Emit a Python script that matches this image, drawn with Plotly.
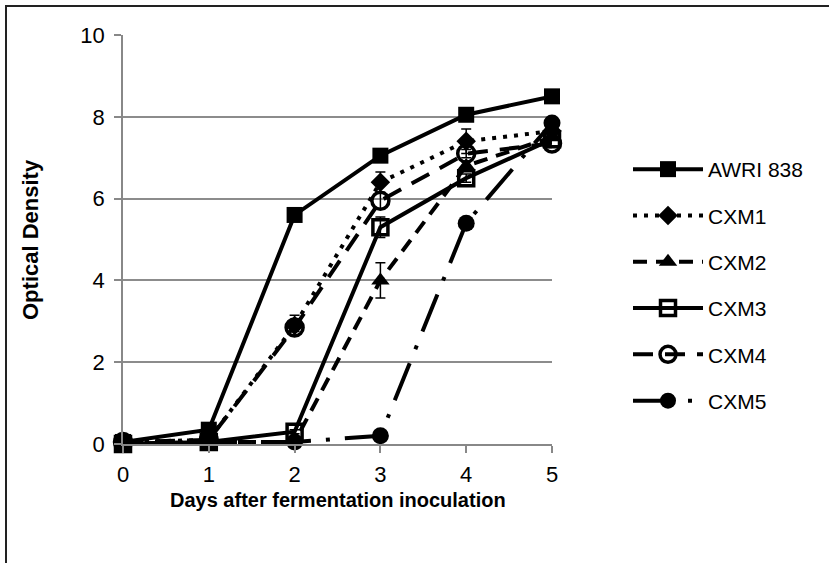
import plotly.graph_objects as go

days = [0, 1, 2, 3, 4, 5]
series_names = ["AWRI 838", "CXM1", "CXM2", "CXM3", "CXM4", "CXM5"]
awri838 = [0.05, 0.35, 5.6, 7.05, 8.05, 8.5]
cxm1 = [0.05, 0.1, 2.9, 6.4, 7.4, 7.65]
cxm2 = [0.0, 0.05, 0.05, 4.0, 6.8, 7.5]
cxm3 = [0.0, 0.05, 0.3, 5.3, 6.5, 7.45]
cxm4 = [0.05, 0.1, 2.85, 5.95, 7.1, 7.35]
cxm5 = [0.0, 0.05, 0.05, 0.2, 5.4, 7.85]
err_awri838 = [0.0, 0.0, 0.0, 0.0, 0.0, 0.0]
err_cxm1 = [0.0, 0.0, 0.25, 0.25, 0.3, 0.1]
err_cxm2 = [0.0, 0.0, 0.0, 0.43, 0.1, 0.1]
err_cxm3 = [0.0, 0.0, 0.05, 0.25, 0.1, 0.1]
err_cxm4 = [0.0, 0.0, 0.1, 0.2, 0.1, 0.1]
err_cxm5 = [0.0, 0.0, 0.0, 0.0, 0.1, 0.1]
x_title = "Days after fermentation inoculation"
y_title = "Optical Density"

values = [awri838, cxm1, cxm2, cxm3, cxm4, cxm5]
errors = [err_awri838, err_cxm1, err_cxm2, err_cxm3, err_cxm4, err_cxm5]
dashes = ["solid", "4px,7px", "14px,9px", "solid", "20px,12px", "40px,15px,4px,15px"]
symbols = ["square", "diamond", "triangle-up", "square-open", "circle-open", "circle"]
sizes = [16, 15, 16, 15, 17, 17]

fig = go.Figure()
for i, name in enumerate(series_names):
    fig.add_trace(go.Scatter(
        x=days, y=values[i], name=name, mode="lines+markers",
        legendgroup=name,
        line=dict(color="black", width=4, dash=dashes[i]),
        marker=dict(symbol=symbols[i], size=sizes[i], color="black",
                    line=dict(color="black", width=3.5 if "open" in symbols[i] else 0)),
        error_y=dict(type="data", array=errors[i], color="black", thickness=1.5, width=5),
        cliponaxis=False,
    ))

L, R, T, B = 123, 552, 35, 444
W, H = 829, 563
pw, ph = R - L, B - T

def px_x(p):
    return (p - L) / pw

def px_y(p):
    return (B - p) / ph

font = "Liberation Sans, Arial, sans-serif"

fig.update_layout(
    width=W, height=H,
    margin=dict(l=L, r=W - R, t=T, b=H - B, pad=0),
    paper_bgcolor="white", plot_bgcolor="white",
    font=dict(family=font, color="black", size=22),
    showlegend=True,
    legend=dict(
        x=px_x(628), xanchor="left", y=px_y(285), yanchor="middle",
        font=dict(size=21, family=font, color="black"),
        tracegroupgap=16, itemwidth=70, bgcolor="rgba(0,0,0,0)",
    ),
    xaxis=dict(
        range=[0, 5], tickvals=days, showgrid=False, zeroline=False,
        showline=True, linecolor="#888888", linewidth=1.5,
        ticks="outside", ticklen=7, tickcolor="#888888", tickwidth=1.5,
        tickfont=dict(size=22), ticklabelstandoff=3,
    ),
    yaxis=dict(
        range=[0, 10], dtick=2, showgrid=True, gridcolor="#8c8c8c", gridwidth=1.5,
        zeroline=False, showline=True, linecolor="#888888", linewidth=1.5,
        ticks="outside", ticklen=7, tickcolor="#888888", tickwidth=1.5,
        tickfont=dict(size=22), ticklabelstandoff=5,
    ),
    annotations=[
        dict(text="<b>" + x_title + "</b>", xref="paper", yref="paper",
             x=px_x(338), y=px_y(500), xanchor="center", yanchor="middle",
             showarrow=False, font=dict(size=20, family=font, color="black")),
        dict(text="<b>" + y_title + "</b>", xref="paper", yref="paper", textangle=-90,
             x=px_x(31), y=px_y(240), xanchor="center", yanchor="middle",
             showarrow=False, font=dict(size=22, family=font, color="black")),
    ],
    shapes=[
        dict(type="rect", xref="paper", yref="paper", x0=px_x(6), x1=px_x(900), y0=px_y(600), y1=px_y(6),
             line=dict(color="#222222", width=2), fillcolor="rgba(0,0,0,0)", layer="above"),
    ],
)

fig.write_html("out.html", config={"displayModeBar": False},
               post_script="document.body.style.margin='0';document.body.style.overflow='hidden';")
